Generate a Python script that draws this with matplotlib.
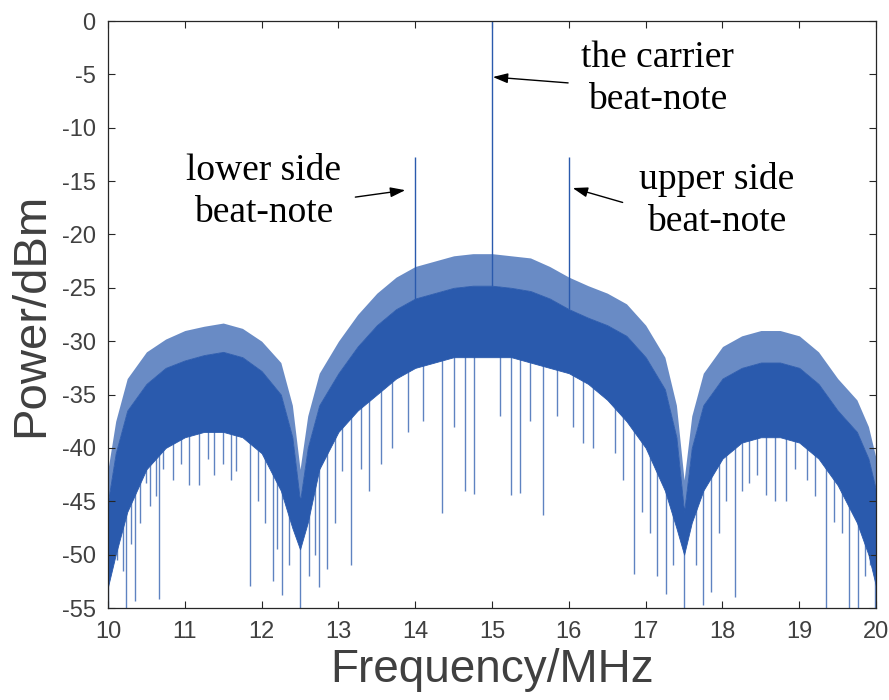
import matplotlib.pyplot as plt
import numpy as np

plt.rcParams['axes.unicode_minus'] = False

freq = [10.0, 10.1, 10.25, 10.5, 10.75, 11.0, 11.25, 11.5, 11.75, 12.0, 12.25, 12.4,
        12.5, 12.6, 12.75, 13.0, 13.25, 13.5, 13.75, 14.0, 14.25, 14.5, 14.75, 15.0,
        15.25, 15.5, 15.75, 16.0, 16.25, 16.5, 16.75, 17.0, 17.25, 17.4, 17.5, 17.6,
        17.75, 18.0, 18.25, 18.5, 18.75, 19.0, 19.25, 19.5, 19.75, 19.9, 20.0]
# tops of the noise spikes
upper = [-42, -37.5, -33.5, -31, -29.8, -29, -28.6, -28.3, -28.8, -30, -32, -36,
         -42, -37, -33, -30, -27.5, -25.5, -24, -23, -22.5, -22, -21.8, -21.8,
         -22, -22.2, -23, -24, -24.8, -25.5, -26.5, -28.5, -31.5, -36, -43, -37,
         -33, -30.5, -29.5, -29, -29, -29.5, -31, -33.5, -35.5, -38, -41]
# top of the solid part of the noise band
core = [-45, -40.5, -36.5, -34, -32.5, -31.8, -31.3, -31, -31.5, -32.8, -35, -39,
        -45, -40, -36, -33, -30.5, -28.5, -27, -26, -25.5, -25, -24.8, -24.8,
        -25, -25.3, -26, -27, -27.8, -28.5, -29.5, -31.5, -34.5, -39, -46, -40,
        -36, -33.5, -32.5, -32, -32, -32.5, -34, -36.5, -38.5, -41, -44]
# bottom of the solid part of the noise band
lower = [-53, -50, -46, -42, -40, -39, -38.5, -38.5, -39, -40.5, -44, -47.5,
         -49.5, -47, -42, -38.5, -36.5, -35, -33.5, -32.5, -32, -31.5, -31.5, -31.5,
         -31.5, -32, -32.5, -33, -34, -35.5, -37.5, -40, -44, -47.5, -50, -47,
         -44, -41, -39.5, -39, -39, -39.5, -41, -43.5, -47, -50, -53]

# isolated dips below the noise band
dip_freq = [10.0, 10.12, 10.2, 10.24, 10.3, 10.35, 10.42, 10.5, 10.55, 10.62, 10.66,
            10.72, 10.85, 10.95, 11.05, 11.19, 11.3, 11.38, 11.5, 11.6, 11.67, 11.85,
            11.95, 12.05, 12.15, 12.2, 12.27, 12.35, 12.5, 12.62, 12.7, 12.75, 12.85,
            12.95, 13.05, 13.16, 13.3, 13.4, 13.55, 13.7, 13.9, 14.1, 14.35, 14.5,
            14.65, 14.76, 15.1, 15.25, 15.36, 15.5, 15.66, 15.85, 16.05, 16.18, 16.32,
            16.6, 16.7, 16.85, 16.95, 17.05, 17.15, 17.27, 17.35, 17.5, 17.65, 17.75,
            17.85, 17.95, 18.05, 18.16, 18.25, 18.35, 18.45, 18.57, 18.69, 18.83, 18.95,
            19.1, 19.2, 19.35, 19.45, 19.55, 19.65, 19.76, 19.85, 19.92, 19.99]
dip_level = [-55, -50.5, -51.5, -55, -49, -54.3, -47, -43.3, -45.4, -44.5, -54.2,
             -42, -43, -41.5, -43.5, -43.5, -41, -42.5, -41.5, -43, -42.2, -52.9,
             -45, -47, -52.5, -49.5, -53.8, -51, -55, -52, -50, -53, -51.3,
             -47, -42.2, -51, -42, -44, -41.5, -40, -38.5, -37.5, -46.1, -38,
             -44, -44.3, -37, -44.4, -44.2, -37.5, -46.3, -37, -38, -39.5, -40,
             -40.5, -43, -51.8, -46, -48, -52, -53.7, -51, -55, -51, -54.7,
             -53.5, -48, -45, -54, -44, -43.3, -42.5, -44.4, -45, -45, -42,
             -43, -44.5, -55, -46.9, -48, -55, -55, -52, -51, -55]

# beat-notes
beat_freq = [14.0, 15.0, 16.0]
beat_level = [-12.7, 0.0, -12.7]

blue = '#2a5aad'
gray = '#404040'

fig = plt.figure(figsize=(8.89, 7.0), dpi=100)
ax = fig.add_axes([0.1215, 0.1314, 0.864, 0.8386])

ax.fill_between(freq, core, upper, color=blue, alpha=0.7, linewidth=0)
ax.fill_between(freq, lower, core, color=blue, linewidth=0.6, edgecolor=blue)
dip_top = np.interp(dip_freq, freq, lower) + 1
ax.vlines(dip_freq, dip_level, dip_top, color=blue, linewidth=1.0, alpha=0.75)
beat_base = np.interp(beat_freq, freq, core)
ax.vlines(beat_freq, beat_base, beat_level, color=blue, linewidth=1.0)

ax.set_xlim(10, 20)
ax.set_ylim(-55, 0)
ax.set_xticks(np.arange(10, 21, 1))
ax.set_yticks(np.arange(-55, 1, 5))
ax.tick_params(direction='in', top=True, right=True, length=5, width=0.8,
               labelsize=17, labelcolor=gray, color='#262626', pad=9)
for lbl in ax.get_xticklabels() + ax.get_yticklabels():
    lbl.set_family('Liberation Sans')
for sp in ax.spines.values():
    sp.set_color('#262626')
    sp.set_linewidth(0.9)

ax.set_xlabel('Frequency/MHz', fontsize=33, color=gray, family='Liberation Sans', labelpad=4)
ax.set_ylabel('Power/dBm', fontsize=34, color=gray, family='Liberation Sans', labelpad=6)

txt = dict(fontsize=27, family='Liberation Serif', ha='center', va='center',
           linespacing=1.3, color='black')
arw = dict(arrowstyle='-|>,head_length=0.9,head_width=0.3', color='black', lw=1.0,
           shrinkA=0, shrinkB=0)
ax.annotate('', xy=(15.01, -5.25), xytext=(15.99, -5.8), arrowprops=arw)
ax.annotate('', xy=(13.87, -15.85), xytext=(13.22, -16.5), arrowprops=arw)
ax.annotate('', xy=(16.05, -15.65), xytext=(16.7, -17.0), arrowprops=arw)
ax.text(17.15, -5.4, 'the carrier\nbeat-note', **txt)
ax.text(12.02, -16.0, 'lower side\nbeat-note', **txt)
ax.text(17.92, -16.8, 'upper side\nbeat-note', **txt)

fig.savefig('out.png', dpi=100)
